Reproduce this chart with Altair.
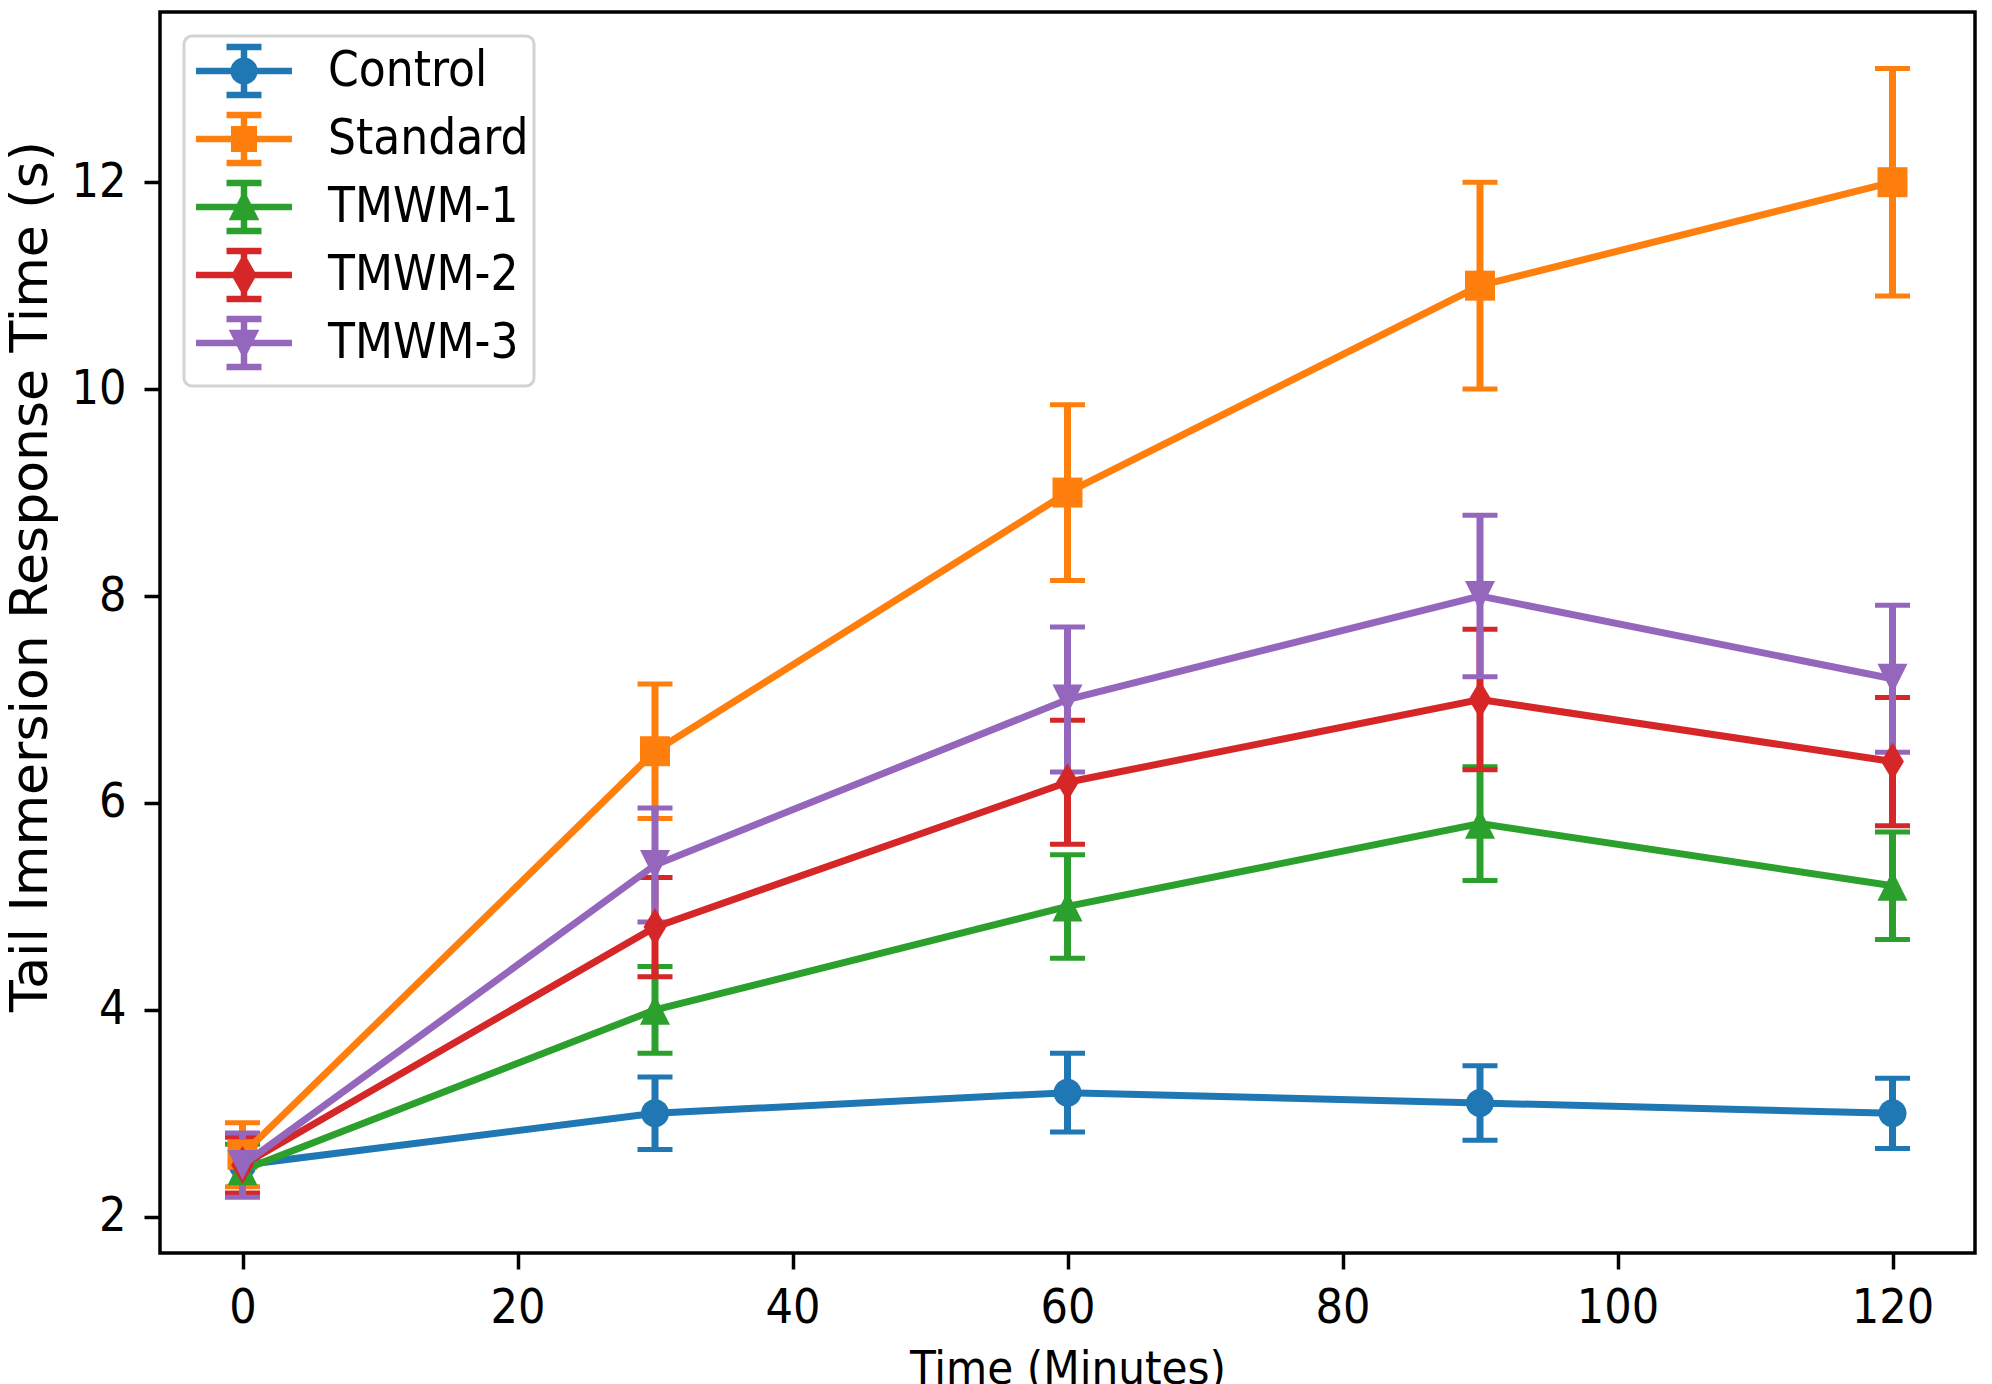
import pandas as pd
import altair as alt

# -----------------------------
# Data
# -----------------------------
times = [0, 30, 60, 90, 120]
groups = ["Control", "Standard", "TMWM-1", "TMWM-2", "TMWM-3"]
colors = ["#1f77b4", "#ff7f0e", "#2ca02c", "#d62728", "#9467bd"]

control_mean = [2.5, 3.0, 3.2, 3.1, 3.0]
control_err = [0.28, 0.35, 0.38, 0.36, 0.34]
standard_mean = [2.6, 6.5, 9.0, 11.0, 12.0]
standard_err = [0.31, 0.65, 0.85, 1.0, 1.1]
tmwm1_mean = [2.45, 4.0, 5.0, 5.8, 5.2]
tmwm1_err = [0.25, 0.42, 0.5, 0.55, 0.52]
tmwm2_mean = [2.5, 4.8, 6.2, 7.0, 6.4]
tmwm2_err = [0.27, 0.48, 0.6, 0.68, 0.62]
tmwm3_mean = [2.5, 5.4, 7.0, 8.0, 7.2]
tmwm3_err = [0.31, 0.55, 0.7, 0.78, 0.71]

means = [control_mean, standard_mean, tmwm1_mean, tmwm2_mean, tmwm3_mean]
errs = [control_err, standard_err, tmwm1_err, tmwm2_err, tmwm3_err]

x_ticks = [0, 20, 40, 60, 80, 100, 120]
y_ticks = [2, 4, 6, 8, 10, 12]

rows = []
for g, m, e in zip(groups, means, errs):
    for t, v, d in zip(times, m, e):
        rows.append({"group": g, "time": t, "mean": v, "lo": v - d, "hi": v + d})
df = pd.DataFrame(rows)

# -----------------------------
# Styling helpers
# -----------------------------
FONT = "DejaVu Sans Condensed"
LW = 7

# marker paths in the [-1, 1] box (matplotlib o, s, ^, d, v)
marker_paths = {
    "Control": "M1,0A1,1 0 1,1 -1,0A1,1 0 1,1 1,0Z",
    "Standard": "M-1,-1H1V1H-1Z",
    "TMWM-1": "M0,-1L1,1L-1,1Z",
    "TMWM-2": "M0,-1L0.6,0L0,1L-0.6,0Z",
    "TMWM-3": "M0,1L1,-1L-1,-1Z",
}
marker_sizes = {"Control": 28 ** 2, "Standard": 30 ** 2, "TMWM-1": 30 ** 2,
                "TMWM-2": 38 ** 2, "TMWM-3": 30 ** 2}

# legend glyphs: line + error bar + caps + small marker (unit = 26.5 px)
_bar = "M-1.81,0H1.81M0,-0.91V0.91M-0.66,-0.91H0.66M-0.66,0.91H0.66"
legend_paths = [
    _bar + "M0.39,0A0.39,0.39 0 1,1 -0.39,0A0.39,0.39 0 1,1 0.39,0Z",
    _bar + "M-0.37,-0.37H0.37V0.37H-0.37Z",
    _bar + "M0,-0.38L0.38,0.38L-0.38,0.38Z",
    _bar + "M0,-0.59L0.34,0L0,0.59L-0.34,0Z",
    _bar + "M0,0.38L0.38,-0.38L-0.38,-0.38Z",
]

x_enc = alt.X("time:Q", scale=alt.Scale(domain=[-6, 126], nice=False, zero=False),
              axis=alt.Axis(values=x_ticks, title="Time (Minutes)"))
y_enc = alt.Y("mean:Q", scale=alt.Scale(domain=[1.65, 13.645], nice=False, zero=False),
              axis=alt.Axis(values=y_ticks, format="d",
                            title="Tail Immersion Response Time (s)"))

base = alt.Chart(df)

# error bars + caps first (matplotlib puts the data lines above all bars)
bar_layers = []
for g, c in zip(groups, colors):
    d = base.transform_filter(alt.datum.group == g)
    bars = d.mark_rule(color=c, strokeWidth=LW).encode(x=x_enc, y=alt.Y("lo:Q"), y2="hi:Q")
    cap_hi = d.mark_point(shape="M-1,0H1", size=35 ** 2, color=c, strokeWidth=5,
                          filled=False, opacity=1).encode(x=x_enc, y=alt.Y("hi:Q"))
    cap_lo = d.mark_point(shape="M-1,0H1", size=35 ** 2, color=c, strokeWidth=5,
                          filled=False, opacity=1).encode(x=x_enc, y=alt.Y("lo:Q"))
    bar_layers += [bars, cap_hi, cap_lo]

line_layers = []
for g, c in zip(groups, colors):
    d = base.transform_filter(alt.datum.group == g)
    line = d.mark_line(color=c, strokeWidth=LW).encode(x=x_enc, y=y_enc)
    pts = d.mark_point(shape=marker_paths[g], size=marker_sizes[g], color=c,
                       filled=True, opacity=1, strokeWidth=0).encode(x=x_enc, y=y_enc)
    line_layers += [line, pts]

legend_kw = dict(
    title=None,
    orient="none",
    legendX=24,
    legendY=24,
    padding=5,
    symbolSize=53 ** 2,
    symbolStrokeWidth=6.5,
    symbolOffset=25,
    labelFont=FONT,
    labelFontSize=49,
    labelColor="black",
    labelOffset=54,
    labelLimit=400,
    rowPadding=-10,
    fillColor="white",
    strokeColor="#d3d3d3",
    cornerRadius=8,
)

legend_layer = base.transform_filter("datum.time < -1000").mark_point(
    filled=True, opacity=1, strokeWidth=6.5
).encode(
    x=x_enc,
    y=y_enc,
    fill=alt.Fill("group:N", scale=alt.Scale(domain=groups, range=colors),
                  sort=groups, legend=alt.Legend(**legend_kw)),
    stroke=alt.Stroke("group:N", scale=alt.Scale(domain=groups, range=colors),
                      sort=groups, legend=alt.Legend(**legend_kw)),
    shape=alt.Shape("group:N", scale=alt.Scale(domain=groups, range=legend_paths),
                    sort=groups, legend=alt.Legend(**legend_kw)),
)

chart = alt.layer(*bar_layers, *line_layers, legend_layer).properties(
    width=1815,
    height=1241,
    autosize=alt.AutoSizeParams(type="none"),
    padding={"left": 152, "top": 4, "right": 8, "bottom": 131},
    background="white",
).configure_view(
    stroke="black", strokeWidth=3.5
).configure_axis(
    grid=False,
    domain=False,
    ticks=True,
    tickSize=16,
    tickWidth=3.5,
    tickColor="black",
    labelFont=FONT,
    labelFontSize=48,
    labelColor="black",
    titleFontWeight="normal",
    titleColor="black",
).configure_axisX(
    labelPadding=15,
    titleFont=FONT,
    titleFontSize=47,
    titleBaseline="alphabetic",
    titleY=130,
).configure_axisY(
    labelPadding=18,
    titleFont="DejaVu Sans",
    titleFontSize=52,
    titleAngle=270,
    titleBaseline="alphabetic",
    titleAlign="center",
    titleX=-114,
    titleY=564,
).configure_legend(
    strokeWidth=3,
)

chart.save("out.html", embed_options={"renderer": "svg", "actions": False})
